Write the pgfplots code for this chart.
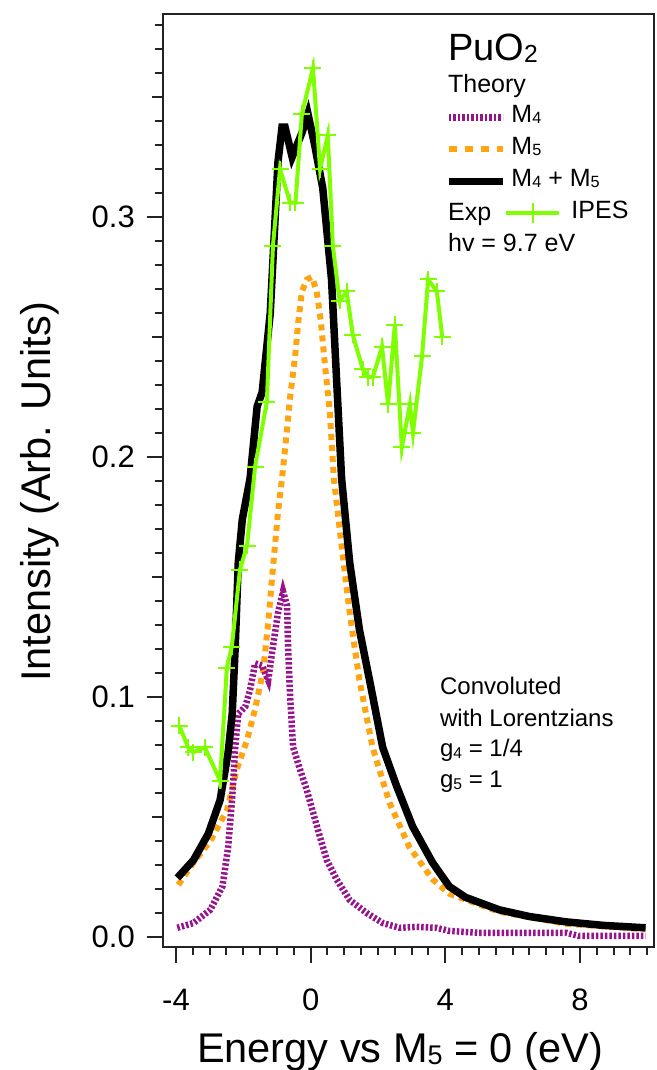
\documentclass[border=0pt]{standalone}
\usepackage{fontspec}
\setmainfont{Liberation Sans}
\usepackage{graphicx}
\usepackage{pgfplots}
\pgfplotsset{compat=1.18}

\definecolor{ipes}{RGB}{128,255,0}
\definecolor{mfour}{RGB}{150,20,140}
\definecolor{mfive}{RGB}{255,165,20}
\definecolor{axgray}{RGB}{35,35,35}

\newcommand{\sub}[1]{\raisebox{-0.06em}{\scalebox{0.65}{#1}}}
\newcommand{\fs}[1]{\fontsize{#1}{#1}\selectfont}

\pgfplotsset{
  seglegend/.style={legend image code/.code={\draw[##1] (0pt,0pt) -- (54pt,0pt);}},
  ipeslegend/.style={legend image code/.code={%
    \draw[overlay,##1,mark repeat=2,mark phase=2] plot coordinates {(57pt,0pt) (84pt,0pt) (110pt,0pt)};}},
  plotframe/.style={scale only axis, width=491pt, height=933pt,
    xmin=-4.386, xmax=10.2, ymin=-0.0042, ymax=0.3846,
    tick pos=left, tick align=outside},
}

\begin{document}
\begin{tikzpicture}
\begin{axis}[
  plotframe, name=ax,
  axis line style={axgray, line width=1.6pt},
  major tick style={axgray, line width=2pt},
  minor tick style={axgray, line width=2pt},
  major tick length=16pt, minor tick length=8pt,
  xtick={-4,0,4,8,12}, xticklabels={-4,0,4,8,12},
  minor x tick num=7,
  ytick={0,0.1,0.2,0.3,0.4}, yticklabels={0.0,0.1,0.2,0.3,0.4},
  minor y tick num=9,
  extra y ticks={0.05,0.15,0.25,0.35}, extra y tick labels={},
  extra y tick style={major tick length=11pt},
  ticklabel style={font=\fs{31}, inner sep=0pt},
  yticklabel style={xshift=-12pt},
  xticklabel style={yshift=-26pt},
  xlabel={Energy vs M\sub{5} = 0 (eV)},
  ylabel={Intensity (Arb. Units)},
  xlabel style={font=\fs{41.5}, at={(axis description cs:0.4827,-0.1233)}, anchor=base},
  ylabel style={font=\fs{41.5}, at={(axis description cs:-0.2301,0.4877)}, anchor=base, rotate=0},
  legend style={draw=none, fill=none, at={(axis cs:3.99,0.3465)}, anchor=north west,
    inner sep=0pt, outer sep=0pt, row sep=8pt, column sep=5pt, font=\fs{25},
    nodes={inner sep=0pt, text height=17pt, text depth=7pt}},
  legend cell align=left,
]
% M5 (theory)
\addplot[mfive, line width=6pt, dash pattern=on 6pt off 5pt, forget plot] coordinates {
(-3.93,0.0217) (-3.48,0.031) (-2.98,0.040) (-2.48,0.053) (-2.19,0.070) (-1.89,0.082)
(-1.65,0.095) (-1.41,0.111) (-1.26,0.131) (-1.15,0.149) (-1.06,0.163) (-0.97,0.177)
(-0.85,0.191) (-0.70,0.2115) (-0.61,0.225) (-0.46,0.242) (-0.37,0.256) (-0.26,0.269)
(-0.11,0.274) (0.04,0.275) (0.18,0.269) (0.30,0.257) (0.42,0.239) (0.57,0.2186)
(0.69,0.191) (0.92,0.163) (1.16,0.135) (1.45,0.107) (1.84,0.079) (2.34,0.056)
(2.93,0.0375) (3.62,0.024) (4.12,0.018) (5.6,0.0105) (7.57,0.0055) (9.95,0.0032)
};
% M4 (theory)
\addplot[mfour, line width=6.5pt, dash pattern=on 2.5pt off 2pt, forget plot] coordinates {
(-3.96,0.0038) (-3.48,0.0058) (-2.98,0.0113) (-2.62,0.021) (-2.45,0.0375) (-2.33,0.058)
(-2.24,0.079) (-2.15,0.093) (-1.94,0.096) (-1.80,0.103) (-1.65,0.114) (-1.44,0.113)
(-1.26,0.107) (-1.12,0.121) (-0.97,0.135) (-0.82,0.144) (-0.70,0.138) (-0.67,0.121)
(-0.61,0.100) (-0.52,0.079) (-0.32,0.070) (-0.11,0.061) (0.07,0.052) (0.27,0.042)
(0.48,0.032) (0.77,0.024) (1.16,0.0154) (1.66,0.010) (2.14,0.0058) (2.64,0.0038)
(3.14,0.0042) (3.73,0.0038) (4.12,0.0025) (5.0,0.0017) (7.6,0.0017) (7.97,0.0004) (9.95,0.0004)
};
% M4 + M5 (theory)
\addplot[black, line width=7.5pt, forget plot] coordinates {
(-3.96,0.0246) (-3.48,0.032) (-3.04,0.043) (-2.69,0.057) (-2.45,0.077) (-2.33,0.093)
(-2.24,0.121) (-2.15,0.156) (-2.03,0.174) (-1.8,0.191) (-1.59,0.221) (-1.44,0.227)
(-1.2,0.260) (-0.97,0.323) (-0.85,0.3375) (-0.76,0.3375) (-0.55,0.325) (-0.26,0.335)
(-0.08,0.343) (0.12,0.33) (0.36,0.312) (0.62,0.274) (0.92,0.191) (1.16,0.156)
(1.45,0.128) (1.75,0.107) (2.14,0.079) (2.55,0.063) (3.03,0.046) (3.62,0.031)
(4.12,0.021) (4.6,0.0165) (5.6,0.0113) (6.5,0.0085) (7.57,0.0063) (8.7,0.0048) (9.95,0.0038)
};
% IPES experiment
\addplot[ipes, line width=4pt, mark=+, mark size=8.5pt, mark options={line width=2pt, solid}, forget plot] coordinates {
(-3.9,0.088) (-3.64,0.079) (-3.49,0.077) (-3.14,0.079) (-2.69,0.065) (-2.49,0.112)
(-2.34,0.121) (-2.1,0.153) (-1.89,0.163) (-1.65,0.196) (-1.3,0.223) (-1.12,0.288)
(-0.91,0.320) (-0.61,0.306) (-0.45,0.306) (-0.26,0.343) (0.07,0.362) (0.28,0.320)
(0.51,0.334) (0.66,0.288) (0.86,0.265) (1.07,0.269) (1.25,0.251) (1.55,0.2365)
(1.70,0.2333) (1.85,0.2333) (2.12,0.246) (2.30,0.222) (2.50,0.255) (2.71,0.204)
(2.95,0.222) (3.04,0.210) (3.31,0.242) (3.49,0.274) (3.75,0.269) (3.91,0.250)
};
\addlegendimage{seglegend, mfour, line width=6.5pt, dash pattern=on 2.5pt off 2pt}
\addlegendentry{M\sub{4}}
\addlegendimage{seglegend, mfive, line width=6pt, dash pattern=on 8pt off 8pt}
\addlegendentry{M\sub{5}}
\addlegendimage{seglegend, black, line width=7.5pt}
\addlegendentry{M\sub{4} + M\sub{5}}
\addlegendimage{ipeslegend, ipes, line width=4pt, mark=+, mark size=10pt, mark options={line width=2pt, solid}}
\addlegendentry{\hspace{60pt}IPES}

\node[anchor=base west, inner sep=0pt, font=\fs{38}] at (axis cs:4.078,0.3654) {PuO\sub{2}};
\node[anchor=base west, inner sep=0pt, font=\fs{25}] at (axis cs:4.078,0.352) {Theory};
\node[anchor=base west, inner sep=0pt, font=\fs{25}] at (axis cs:4.078,0.29875) {Exp};
\node[anchor=base west, inner sep=0pt, font=\fs{25}] at (axis cs:4.078,0.2855) {hv = 9.7 eV};
\node[anchor=base west, inner sep=0pt, font=\fs{24}] at (axis cs:3.841,0.10083) {Convoluted};
\node[anchor=base west, inner sep=0pt, font=\fs{24}] at (axis cs:3.841,0.0875) {with Lorentzians};
\node[anchor=base west, inner sep=0pt, font=\fs{24}] at (axis cs:3.841,0.075) {g\sub{4} = 1/4};
\node[anchor=base west, inner sep=0pt, font=\fs{24}] at (axis cs:3.841,0.0621) {g\sub{5} = 1};
\end{axis}
\pgfresetboundingbox
\path ([shift={(-163pt,-123pt)}]ax.south west) rectangle ([shift={(3pt,14pt)}]ax.north east);
\end{tikzpicture}
\end{document}
